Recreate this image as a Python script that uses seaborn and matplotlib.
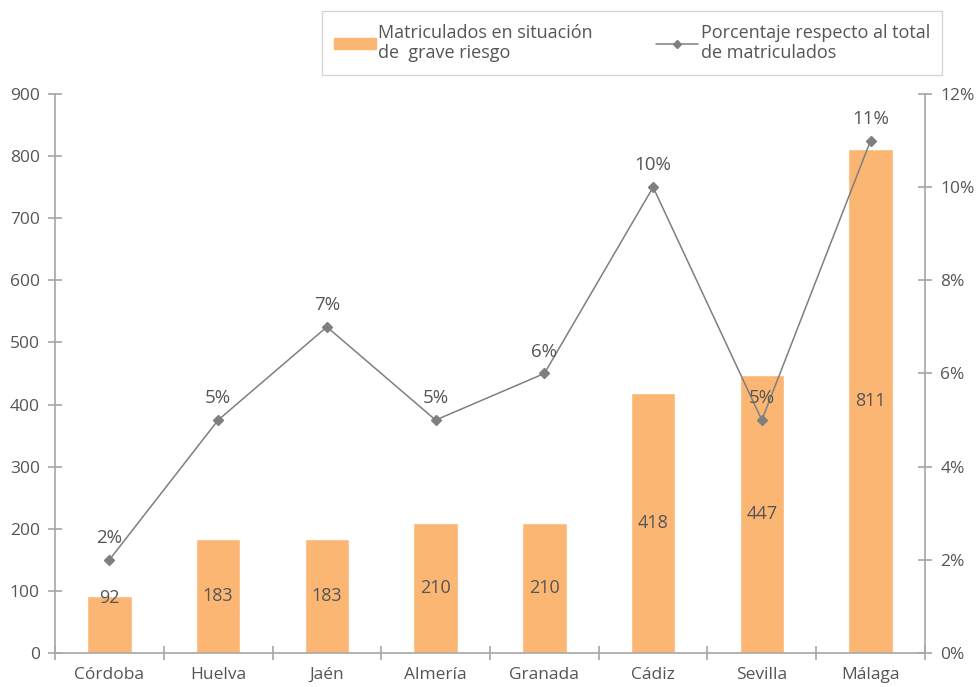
import matplotlib
matplotlib.use("Agg")
import matplotlib.pyplot as plt
import seaborn as sns
import pandas as pd
from matplotlib.lines import Line2D
from matplotlib.patches import Patch
from matplotlib.ticker import FuncFormatter, MultipleLocator

provincias = ["Córdoba", "Huelva", "Jaén", "Almería", "Granada", "Cádiz", "Sevilla", "Málaga"]
matriculados = [92, 183, 183, 210, 210, 418, 447, 811]
porcentaje = [2, 5, 7, 5, 6, 10, 5, 11]

sns.set_theme(style="white")
plt.rcParams["font.family"] = ["Open Sans", "DejaVu Sans"]
txt = "#555555"
axc = "#a6a6a6"

df = pd.DataFrame({"prov": provincias, "mat": matriculados, "pct": porcentaje})

fig = plt.figure(figsize=(9.79, 6.87), dpi=100)
ax = fig.add_axes([0.0562, 0.0495, 0.8886, 0.8137])
sns.barplot(data=df, x="prov", y="mat", color="#FBB673", width=0.41, ax=ax, saturation=1)
ax.set_xlim(-0.5, 7.5)
ax.set_ylim(0, 900)
ax.yaxis.set_major_locator(MultipleLocator(100))
ax.set_xlabel("")
ax.set_ylabel("")
for i, v in enumerate(matriculados):
    ax.text(i, max(v / 2, 88), str(v), ha="center", va="center", fontsize=13, color=txt)

ax2 = ax.twinx()
ax2.plot(range(len(provincias)), porcentaje, color="#7f7f7f", lw=1.1, marker="D", markersize=5)
ax2.set_ylim(0, 12)
ax2.yaxis.set_major_locator(MultipleLocator(2))
ax2.yaxis.set_major_formatter(FuncFormatter(lambda v, p: f"{int(v)}%"))
for i, p in enumerate(porcentaje):
    ax2.text(i, p + 0.47, f"{p}%", ha="center", va="center", fontsize=13.5, color=txt)

for a in (ax, ax2):
    a.spines["top"].set_visible(False)
    for s in ["left", "right", "bottom"]:
        a.spines[s].set_color(axc)
        a.spines[s].set_linewidth(1.2)
ax.spines["right"].set_visible(False)
ax2.spines["left"].set_visible(False)
ax2.spines["bottom"].set_visible(False)

ax.set_xticks(range(len(provincias)))
ax.set_xticklabels(provincias)
ax.set_xticks([i + 0.5 for i in range(-1, 8)], minor=True)
ax.tick_params(axis="x", which="major", length=0, pad=10, labelsize=12.5, labelcolor=txt)
ax.tick_params(axis="x", which="minor", bottom=True, direction="inout", length=10, color=axc, width=1.2)
ax.tick_params(axis="y", left=True, direction="inout", length=10, color=axc, width=1.2, labelsize=12.5, labelcolor=txt, pad=6)
ax2.tick_params(axis="y", right=True, direction="inout", length=10, color=axc, width=1.2, labelsize=12.5, labelcolor=txt, pad=6)

handles = [Patch(color="#FBB673"), Line2D([0], [0], color="#7f7f7f", lw=1.1, marker="D", markersize=4)]
labels = ["Matriculados en situación\nde  grave riesgo", "Porcentaje respecto al total\nde matriculados"]
leg = fig.legend(handles, labels, loc="upper left", bbox_to_anchor=(0.3285, 0.984), ncol=2,
                 frameon=True, fancybox=False, edgecolor="#cccccc", fontsize=13,
                 handlelength=2.3, handleheight=0.5, columnspacing=3.5, handletextpad=0.15,
                 borderpad=0.7, borderaxespad=0, labelcolor=txt)
leg.get_frame().set_linewidth(1.0)

fig.savefig("out.png", dpi=100)
